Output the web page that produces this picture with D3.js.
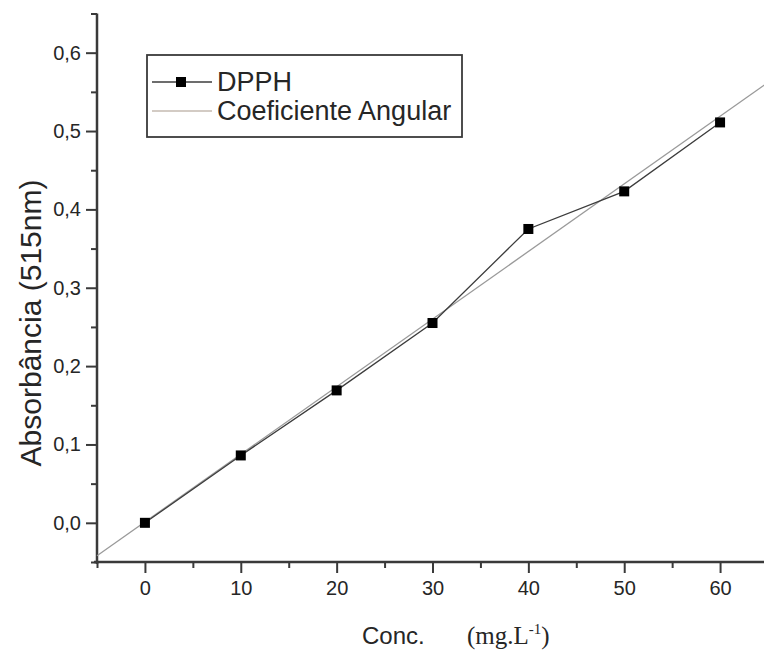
<!DOCTYPE html>
<html>
<head>
<meta charset="utf-8">
<script src="https://cdn.jsdelivr.net/npm/d3@7"></script>
<style>
  html, body { margin: 0; padding: 0; background: #fff; }
  svg { display: block; }
</style>
</head>
<body>
<svg id="chart" width="764" height="650"></svg>
<script>
// ---- data ----
const concentrations = [0, 10, 20, 30, 40, 50, 60];
const absorbance = [0.000, 0.086, 0.169, 0.255, 0.375, 0.423, 0.511];
const fitX = [-5, 65];
const fitY = [-0.042, 0.562];
const xTickValues = [0, 10, 20, 30, 40, 50, 60];
const yTickValues = [0.0, 0.1, 0.2, 0.3, 0.4, 0.5, 0.6];
const seriesNames = ["DPPH", "Coeficiente Angular"];

const sans = "'Liberation Sans', Arial, sans-serif";
const serif = "'Liberation Serif', 'Times New Roman', serif";
const textColor = "#262626";

const svg = d3.select("#chart");
const x = d3.scaleLinear().domain([-5, 65]).range([97, 768]);
const y = d3.scaleLinear().domain([-0.05, 0.65]).range([562, 13.5]);

const locale = d3.formatLocale({decimal: ",", thousands: ".", grouping: [3], currency: ["", ""]});
const yFmt = locale.format(".1f");

const axisColor = "#3a3a3a";

// minor ticks
const xMinor = d3.range(-5, 66, 10);
const yMinor = d3.range(-0.05, 0.66, 0.1);

const gx = svg.append("g").attr("transform", `translate(0,${y(-0.05)})`);
gx.call(d3.axisBottom(x).tickValues(xMinor).tickSize(6).tickFormat(""));
gx.selectAll(".tick line").attr("stroke", axisColor).attr("stroke-width", 2);
gx.select(".domain").remove();
const gx2 = svg.append("g").attr("transform", `translate(0,${y(-0.05)})`);
gx2.call(d3.axisBottom(x).tickValues(xTickValues).tickSize(11).tickPadding(8).tickFormat(d3.format("d")));
gx2.selectAll(".tick line").attr("stroke", axisColor).attr("stroke-width", 2);
gx2.selectAll(".tick text").style("font-size", "20px").style("fill", textColor).style("font-family", sans);
gx2.select(".domain").attr("stroke", axisColor).attr("stroke-width", 2.5).attr("d", `M${x(-5)-3},0H764`);

const gy = svg.append("g").attr("transform", `translate(${x(-5)},0)`);
gy.call(d3.axisLeft(y).tickValues(yMinor).tickSize(6).tickFormat(""));
gy.selectAll(".tick line").attr("stroke", axisColor).attr("stroke-width", 2);
gy.select(".domain").remove();
const gy2 = svg.append("g").attr("transform", `translate(${x(-5)},0)`);
gy2.call(d3.axisLeft(y).tickValues(yTickValues).tickSize(11).tickPadding(5).tickFormat(yFmt));
gy2.selectAll(".tick line").attr("stroke", axisColor).attr("stroke-width", 2);
gy2.selectAll(".tick text").style("font-size", "20px").style("fill", textColor).style("font-family", sans);
gy2.select(".domain").attr("stroke", axisColor).attr("stroke-width", 2.5).attr("d", `M0,${y(0.65)}V${y(-0.05)+2}`);

// fit line
const fitData = fitX.map((v, i) => [v, fitY[i]]);
svg.append("path")
  .datum(fitData)
  .attr("fill", "none").attr("stroke", "#9a9a9a").attr("stroke-width", 1.3)
  .attr("d", d3.line().x(d => x(d[0])).y(d => y(d[1])));

// DPPH line
const pts = concentrations.map((c, i) => [c, absorbance[i]]);
svg.append("path")
  .datum(pts)
  .attr("fill", "none").attr("stroke", "#3c3c3c").attr("stroke-width", 1.3)
  .attr("d", d3.line().x(d => x(d[0])).y(d => y(d[1])));

const ms = 10;
svg.selectAll("rect.pt").data(pts).join("rect")
  .attr("class", "pt")
  .attr("x", d => x(d[0]) - ms / 2).attr("y", d => y(d[1]) - ms / 2)
  .attr("width", ms).attr("height", ms).attr("fill", "#000");

// legend
const lg = svg.append("g");
lg.append("rect").attr("x", 147).attr("y", 55).attr("width", 315).attr("height", 82)
  .attr("fill", "#fff").attr("stroke", "#3a3a3a").attr("stroke-width", 1.8);
lg.append("line").attr("x1", 152).attr("x2", 212).attr("y1", 82).attr("y2", 82)
  .attr("stroke", "#3c3c3c").attr("stroke-width", 1.3);
lg.append("rect").attr("x", 181 - ms / 2).attr("y", 82 - ms / 2).attr("width", ms).attr("height", ms).attr("fill", "#000");
lg.append("line").attr("x1", 152).attr("x2", 212).attr("y1", 111).attr("y2", 111)
  .attr("stroke", "#c4bab0").attr("stroke-width", 1.3);
lg.selectAll("text.lt").data(seriesNames).join("text")
  .attr("class", "lt")
  .attr("x", 217).attr("y", (d, i) => 82 + i * 29).attr("dy", "0.35em")
  .style("font-family", sans).style("font-size", "27px").style("fill", textColor)
  .text(d => d);

// axis titles
svg.append("text")
  .attr("transform", `translate(41,323) rotate(-90)`)
  .attr("text-anchor", "middle")
  .style("font-family", sans).style("font-size", "30px").style("fill", textColor)
  .text("Absorbância (515nm)");

svg.append("text").attr("x", 362).attr("y", 644)
  .style("font-family", sans).style("font-size", "24px").style("fill", textColor)
  .text("Conc.");
const unit = svg.append("text").attr("x", 467).attr("y", 644)
  .style("font-family", serif).style("font-size", "25px").style("fill", textColor);
unit.append("tspan").text("(mg.L");
unit.append("tspan").attr("dy", -10).style("font-size", "15px").text("-1");
unit.append("tspan").attr("dy", 10).text(")");
</script>
</body>
</html>
